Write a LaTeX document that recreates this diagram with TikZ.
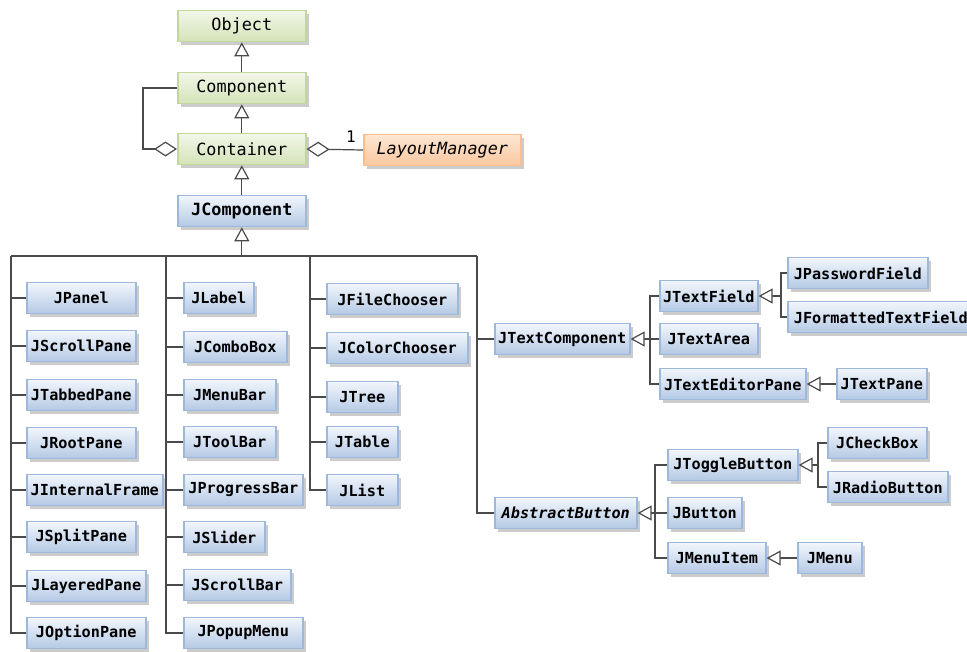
\documentclass[tikz,border=0pt]{standalone}
\usepackage{fontspec}
\setmonofont{DejaVu Sans Mono}
\usetikzlibrary{arrows.meta,shadows}
\definecolor{greenline}{HTML}{C3D69B}
\definecolor{greentop}{HTML}{F2F7E8}
\definecolor{greenbot}{HTML}{D4E3B8}
\definecolor{blueline}{HTML}{9CB8DB}
\definecolor{bluetop}{HTML}{F2F6FC}
\definecolor{bluebot}{HTML}{B4C9E5}
\definecolor{orangeline}{HTML}{F9BE8E}
\definecolor{orangetop}{HTML}{FDE6D3}
\definecolor{orangebot}{HTML}{FAC8A0}
\definecolor{linec}{HTML}{4A4A4A}
\tikzset{
  cbox/.style={draw, anchor=west, minimum height=31pt, inner sep=1pt, line width=1.6pt,
    drop shadow={shadow xshift=3pt, shadow yshift=-3pt, fill=black!40, opacity=.5}},
  greenbox/.style={cbox, draw=greenline, top color=greentop, bottom color=greenbot,
    font=\fontsize{16.8}{18}\selectfont\ttfamily},
  bluebox/.style={cbox, draw=blueline, top color=bluetop, bottom color=bluebot,
    font=\fontsize{15.2}{17}\selectfont\ttfamily\bfseries},
  orangebox/.style={cbox, draw=orangeline, top color=orangetop, bottom color=orangebot,
    font=\fontsize{16.8}{18}\selectfont\ttfamily\itshape},
  conn/.style={draw=linec, line width=1.2pt},
  gen/.style={conn, -{Triangle[open, length=14pt, width=15pt, fill=white]}},
  agg/.style={conn, -{Diamond[open, length=23pt, width=15pt, fill=white]}},
}
\begin{document}
\begin{tikzpicture}[x=1pt, y=-1pt]
\useasboundingbox (0,0) rectangle (967,651);
% top hierarchy
\node[greenbox, minimum width=128] (Object) at (177,26) {Object};
\node[greenbox, minimum width=128] (Component) at (177,88) {Component};
\node[greenbox, minimum width=128] (Container) at (177,149) {Container};
\node[bluebox, minimum width=128, font=\fontsize{16.8}{18}\selectfont\ttfamily\bfseries] (JComponent) at (177,211) {JComponent};
\node[orangebox, minimum width=157] (LayoutManager) at (363,150) {LayoutManager};
% column 1
\node[bluebox, minimum width=109] (JPanel) at (26,298) {JPanel};
\node[bluebox, minimum width=109] (JScrollPane) at (26,346) {JScrollPane};
\node[bluebox, minimum width=109] (JTabbedPane) at (26,395) {JTabbedPane};
\node[bluebox, minimum width=109] (JRootPane) at (26,443) {JRootPane};
\node[bluebox, minimum width=136] (JInternalFrame) at (26,490) {JInternalFrame};
\node[bluebox, minimum width=109] (JSplitPane) at (26,537) {JSplitPane};
\node[bluebox, minimum width=119] (JLayeredPane) at (26,586) {JLayeredPane};
\node[bluebox, minimum width=119] (JOptionPane) at (26,633) {JOptionPane};
% column 2
\node[bluebox, minimum width=70] (JLabel) at (183,298) {JLabel};
\node[bluebox, minimum width=103] (JComboBox) at (183,347) {JComboBox};
\node[bluebox, minimum width=92] (JMenuBar) at (183,395) {JMenuBar};
\node[bluebox, minimum width=92] (JToolBar) at (183,442) {JToolBar};
\node[bluebox, minimum width=119] (JProgressBar) at (183,490) {JProgressBar};
\node[bluebox, minimum width=81] (JSlider) at (183,537) {JSlider};
\node[bluebox, minimum width=107] (JScrollBar) at (183,585) {JScrollBar};
\node[bluebox, minimum width=119] (JPopupMenu) at (183,633) {JPopupMenu};
% column 3
\node[bluebox, minimum width=131] (JFileChooser) at (326,299) {JFileChooser};
\node[bluebox, minimum width=141] (JColorChooser) at (326,348) {JColorChooser};
\node[bluebox, minimum width=71] (JTree) at (326,397) {JTree};
\node[bluebox, minimum width=71] (JTable) at (326,442) {JTable};
\node[bluebox, minimum width=71] (JList) at (326,490) {JList};
% column 4
\node[bluebox, minimum width=135] (JTextComponent) at (494,339) {JTextComponent};
\node[bluebox, minimum width=142, font=\fontsize{15.2}{17}\selectfont\ttfamily\bfseries\itshape] (AbstractButton) at (494,513) {AbstractButton};
% text group
\node[bluebox, minimum width=98] (JTextField) at (659,296) {JTextField};
\node[bluebox, minimum width=98] (JTextArea) at (659,339) {JTextArea};
\node[bluebox, minimum width=146] (JTextEditorPane) at (659,384) {JTextEditorPane};
\node[bluebox, minimum width=140] (JPasswordField) at (787,273) {JPasswordField};
\node[bluebox, minimum width=186] (JFormattedTextField) at (787,317) {JFormattedTextField};
\node[bluebox, minimum width=90] (JTextPane) at (836,384) {JTextPane};
% button group
\node[bluebox, minimum width=130] (JToggleButton) at (667,465) {JToggleButton};
\node[bluebox, minimum width=74] (JButton) at (667,513) {JButton};
\node[bluebox, minimum width=98] (JMenuItem) at (667,558) {JMenuItem};
\node[bluebox, minimum width=64] (JMenu) at (797,558) {JMenu};
\node[bluebox, minimum width=99] (JCheckBox) at (827,443) {JCheckBox};
\node[bluebox, minimum width=120] (JRadioButton) at (827,487) {JRadioButton};

% top connectors
\draw[gen] (Component.north) -- (Object.south);
\draw[gen] (Container.north) -- (Component.south);
\draw[gen] (JComponent.north) -- (Container.south);
\coordinate (cl) at (143,88);
\draw[agg] (Component.west) -- (cl) |- (Container.west);
\draw[agg] (LayoutManager.west) -- (Container.east);
\node[font=\fontsize{16}{18}\selectfont\ttfamily] (one) at (351,137) {1};

% bus
\coordinate (b1) at (11,256);
\coordinate (b2) at (166,256);
\coordinate (b3) at (310,256);
\coordinate (b4) at (477,256);
\draw[conn] (b1) -- (b4);
\draw[gen] (JComponent.south |- b1) -- (JComponent.south);
\draw[conn] (b1) |- (JOptionPane.west);
\foreach \n in {JPanel,JScrollPane,JTabbedPane,JRootPane,JInternalFrame,JSplitPane,JLayeredPane}
  \draw[conn] (b1 |- \n.west) -- (\n.west);
\draw[conn] (b2) |- (JPopupMenu.west);
\foreach \n in {JLabel,JComboBox,JMenuBar,JToolBar,JProgressBar,JSlider,JScrollBar}
  \draw[conn] (b2 |- \n.west) -- (\n.west);
\draw[conn] (b3) |- (JList.west);
\foreach \n in {JFileChooser,JColorChooser,JTree,JTable}
  \draw[conn] (b3 |- \n.west) -- (\n.west);
\draw[conn] (b4) |- (AbstractButton.west);
\draw[conn] (b4 |- JTextComponent.west) -- (JTextComponent.west);

% text component group
\coordinate (tcj) at (650,339);
\draw[gen] (tcj) -- (JTextComponent.east);
\draw[conn] (JTextField.west) -| (tcj) |- (JTextEditorPane.west);
\draw[conn] (JTextArea.west) -- (tcj);
\coordinate (tfj) at (781,296);
\draw[gen] (tfj) -- (JTextField.east);
\draw[conn] (JPasswordField.west) -| (tfj) |- (JFormattedTextField.west);
\draw[gen] (JTextPane.west) -- (JTextEditorPane.east);

% button group
\coordinate (abj) at (655,513);
\draw[gen] (abj) -- (AbstractButton.east);
\draw[conn] (JToggleButton.west) -| (abj) |- (JMenuItem.west);
\draw[conn] (JButton.west) -- (abj);
\coordinate (tbj) at (818,465);
\draw[gen] (tbj) -- (JToggleButton.east);
\draw[conn] (JCheckBox.west) -| (tbj) |- (JRadioButton.west);
\draw[gen] (JMenu.west) -- (JMenuItem.east);
\end{tikzpicture}
\end{document}
